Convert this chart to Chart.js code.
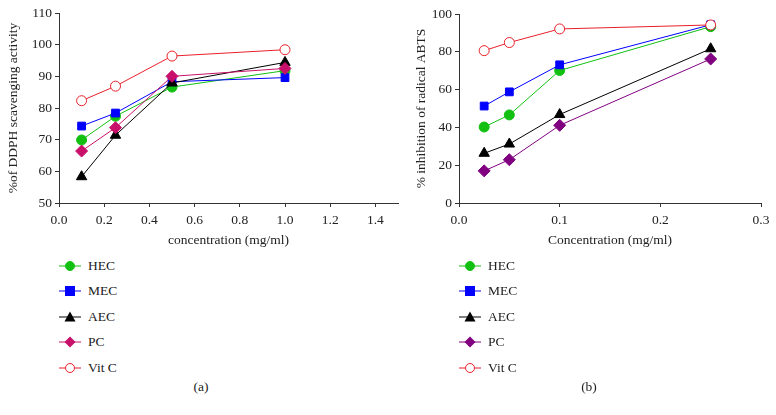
<!DOCTYPE html>
<html>
<head>
<meta charset="utf-8">
<script src="https://cdn.jsdelivr.net/npm/chart.js@4.4.0/dist/chart.umd.min.js"></script>
<style>
  body { margin: 0; background: #fff; width: 776px; height: 415px; position: relative; overflow: hidden;
         font-family: "Liberation Serif", "DejaVu Serif", serif; color: #222; }
  canvas { position: absolute; top: 0; }
  #c1 { left: 0; }
  #c2 { left: 390px; }
  .legend { position: absolute; top: 253px; }
  .legend div { height: 25.5px; display: flex; align-items: center; font-size: 13.5px; }
  .legend svg { margin-right: 7px; }
  .panel { position: absolute; top: 379px; font-size: 13.5px; width: 30px; text-align: center; }
</style>
</head>
<body>
<canvas id="c1" width="405" height="250"></canvas>
<canvas id="c2" width="386" height="250"></canvas>
<div class="legend" id="leg1" style="left:59px"></div>
<div class="legend" id="leg2" style="left:459px"></div>
<div class="panel" style="left:186px">(a)</div>
<div class="panel" style="left:574px">(b)</div>
<script>
// (a) DPPH
var concA = [0.1, 0.25, 0.5, 1.0]
var hecA = [69.9, 77.4, 86.6, 91.8]
var mecA = [74.3, 78.4, 88.3, 89.6]
var aecA = [58.3, 71.4, 87.9, 94.4]
var pcA = [66.4, 73.8, 90.0, 92.5]
var vitcA = [82.3, 86.9, 96.4, 98.4]
var xTicksA = [0, 0.2, 0.4, 0.6, 0.8, 1.0, 1.2, 1.4]

// (b) ABTS
var concB = [0.025, 0.05, 0.1, 0.25]
var hecB = [40.2, 46.6, 70.1, 93.3]
var mecB = [51.3, 58.8, 73.1, 94.3]
var aecB = [26.3, 31.2, 46.8, 81.6]
var pcB = [17.0, 22.9, 41.1, 76.2]
var vitcB = [80.6, 84.9, 92.1, 94.2]

var names = ["HEC", "MEC", "AEC", "PC", "Vit C"]

var serif = "'Liberation Serif', 'DejaVu Serif', serif"
Chart.defaults.font.family = serif
Chart.defaults.font.size = 13.5
Chart.defaults.color = "#222"

function pts(xs, ys) {
    return xs.map(function (x, i) { return {x: x, y: ys[i]} })
}

function makeSets(xs, series, pcColor) {
    var styles = [
        {c: "#12c012", p: "circle", r: 5, bg: "#12c012"},
        {c: "#0000ff", p: "rect", r: 5.5, bg: "#0000ff"},
        {c: "#000000", p: "triangle", r: 6, bg: "#000000"},
        {c: pcColor, p: "rectRot", r: 6, bg: pcColor},
        {c: "#e8202a", p: "circle", r: 5, bg: "#ffffff"}
    ]
    return series.map(function (s, i) {
        var st = styles[i]
        return {
            label: names[i],
            data: pts(xs, s),
            borderColor: st.c,
            borderWidth: 1,
            pointStyle: st.p,
            pointRadius: st.r,
            pointBackgroundColor: st.bg,
            pointBorderColor: st.c,
            pointBorderWidth: 1,
            tension: 0,
            clip: false
        }
    }).reverse()
}

function axis(min, max, step, title, extra) {
    var o = {
        type: "linear",
        min: min,
        max: max,
        ticks: {stepSize: step, padding: 3, color: "#222", font: {size: 13.5}},
        grid: {display: true, drawOnChartArea: false, drawTicks: true, tickLength: 4, tickColor: "#333", tickWidth: 1},
        border: {display: true, color: "#333", width: 1},
        title: {display: true, text: title, color: "#222", font: {size: 13.5}}
    }
    for (var k in extra) o[k] = extra[k]
    return o
}

function makeChart(id, sets, xAxis, yAxis, pad) {
    return new Chart(document.getElementById(id).getContext("2d"), {
        type: "line",
        data: {datasets: sets},
        options: {
            responsive: false,
            animation: false,
            layout: {padding: pad},
            plugins: {legend: {display: false}, tooltip: {enabled: false}},
            scales: {x: xAxis, y: yAxis}
        }
    })
}

var xa = axis(0, 1.5, 0.2, "concentration (mg/ml)", {
    afterFit: function (s) { s.height = 47 },
    afterBuildTicks: function (s) { s.ticks = xTicksA.map(function (v) { return {value: v} }) }
})
xa.ticks.callback = function (v) { return v.toFixed(1) }
xa.ticks.padding = 5
xa.title.padding = {top: 0, bottom: 1}
var ya = axis(50, 110, 10, "%of DDPH scavenging activity", {
    afterFit: function (s) { s.width = 59 }
})
ya.title.padding = {top: 5, bottom: 0}

var graph1 = makeChart("c1", makeSets(concA, [hecA, mecA, aecA, pcA, vitcA], "#c8106a"),
    xa, ya, {top: 13, right: 7, left: 0, bottom: 0})

var xb = axis(0, 0.3, 0.1, "Concentration (mg/ml)", {
    afterFit: function (s) { s.height = 47 }
})
xb.ticks.callback = function (v) { return v.toFixed(1) }
xb.ticks.padding = 5
xb.title.padding = {top: 0, bottom: 1}
var yb = axis(0, 100, 20, "% inhibition of radical ABTS", {
    afterFit: function (s) { s.width = 69 }
})
yb.title.padding = {top: 23, bottom: 0}

var graph2 = makeChart("c2", makeSets(concB, [hecB, mecB, aecB, pcB, vitcB], "#800080"),
    xb, yb, {top: 14, right: 15, left: 0, bottom: 0})

// html legend, one entry per row, built from the datasets
function marker(ds) {
    var c = ds.borderColor, f = ds.pointBackgroundColor, shape
    if (ds.pointStyle === "circle") shape = '<circle cx="11" cy="6" r="4.5" fill="' + f + '" stroke="' + c + '"/>'
    else if (ds.pointStyle === "rect") shape = '<rect x="6" y="1" width="10" height="10" fill="' + f + '"/>'
    else if (ds.pointStyle === "triangle") shape = '<polygon points="11,0.5 16.5,10.5 5.5,10.5" fill="' + f + '"/>'
    else shape = '<polygon points="11,0.5 16.5,6 11,11.5 5.5,6" fill="' + f + '"/>'
    return '<svg width="22" height="12"><line x1="0" y1="6" x2="22" y2="6" stroke="' + c + '" stroke-width="1"/>' + shape + '</svg>'
}
function legend(chart, id) {
    var html = ""
    chart.data.datasets.slice().reverse().forEach(function (ds) {
        html += "<div>" + marker(ds) + "<span>" + ds.label + "</span></div>"
    })
    document.getElementById(id).innerHTML = html
}
legend(graph1, "leg1")
legend(graph2, "leg2")
</script>
</body>
</html>
